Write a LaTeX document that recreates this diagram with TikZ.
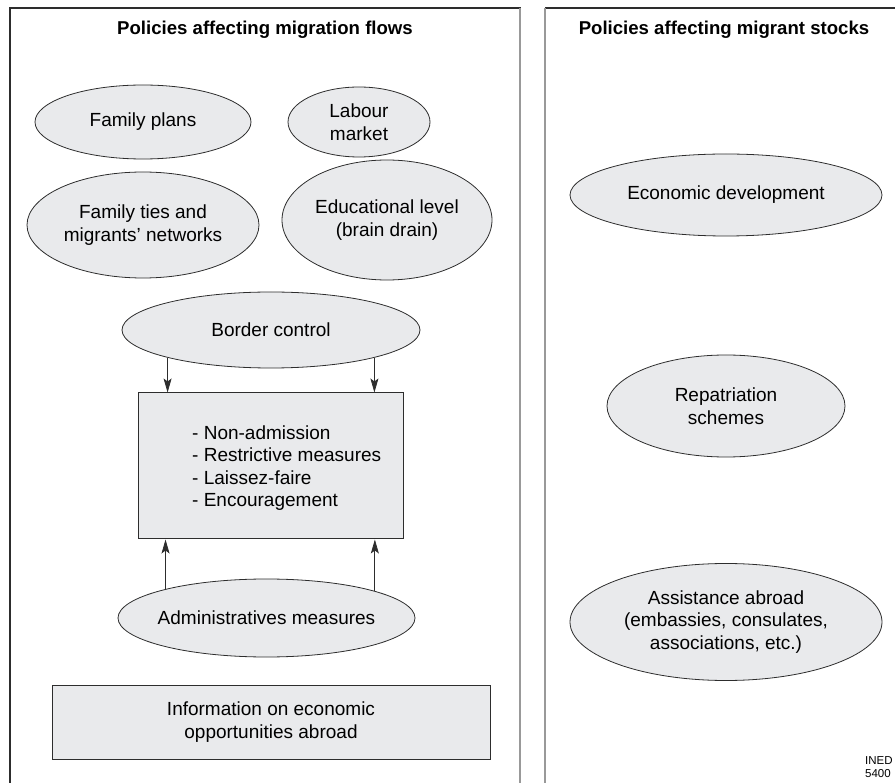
\documentclass[tikz,border=0pt]{standalone}
\usepackage{fontspec}
\setmainfont{Liberation Sans}
\usepackage{xcolor}
\usepackage{tikz}
\usetikzlibrary{shapes.geometric,arrows.meta}

\definecolor{shade}{RGB}{233,234,236}
\definecolor{ink}{RGB}{45,45,45}

\begin{document}
\begin{tikzpicture}[x=1pt,y=-1pt,
    body/.style={font=\fontsize{19}{22.5}\selectfont},
    heading/.style={font=\fontsize{18.6}{22}\selectfont\bfseries},
    oval/.style={body, ellipse, draw=ink, fill=shade, line width=0.8pt, inner xsep=-12pt, inner ysep=0pt, align=center},
    plainbox/.style={body, rectangle, draw=ink, fill=shade, line width=1pt, inner sep=0pt},
    arr/.style={draw=ink, line width=0.8pt, -{Stealth[length=14pt,width=8pt,inset=3pt]}}]

        % Page frame
        \useasboundingbox (0,0) rectangle (895,783);
        \clip (0,0) rectangle (895,783);

        % Two panels
        \draw[ink, line width=1.4pt] (10,800) -- (10,8) -- (521,8);
        \draw[gray!80, line width=1.6pt] (520,8) -- (520,800);
        \draw[ink, line width=1.4pt] (545,8) -- (900,8);
        \draw[gray!80, line width=1.6pt] (545,8) -- (545,800);

        % Titles
        \node[heading] (flowtitle) at (265,30) {Policies affecting migration flows};
        \node[heading] (stocktitle) at (724,30) {Policies affecting migrant stocks};

        % Flows
        \node[oval, minimum width=216pt, minimum height=74pt] (plans) at (143,122) {Family plans};
        \node[oval, minimum width=142pt, minimum height=70pt] (labour) at (359,122) {Labour\\market};
        \node[oval, minimum width=232pt, minimum height=106pt] (ties) at (143,225) {Family ties and\\migrants’ networks};
        \node[oval, minimum width=210pt, minimum height=120pt] (educ) at (387,220) {Educational level\\(brain drain)};
        \node[oval, minimum width=298pt, minimum height=76pt] (border) at (271,330) {Border control};

        \node[plainbox, minimum width=265pt, minimum height=146pt] (measures) at (270.5,466) {};
        \node[body, align=left, anchor=west, inner sep=0pt] (options) at (192,468)
            {- Non-admission\\- Restrictive measures\\- Laissez-faire\\- Encouragement};

        \node[oval, minimum width=297pt, minimum height=78pt] (admin) at (266.5,618) {Administratives measures};
        \node[plainbox, minimum width=438pt, minimum height=74pt, align=center] (info) at (271,722)
            {Information on economic\\opportunities abroad};

        % Arrows into the box
        \draw[arr] (border.195) -- (border.195 |- measures.north);
        \draw[arr] (border.345) -- (border.345 |- measures.north);
        \draw[arr] (admin.164) -- (admin.164 |- measures.south);
        \draw[arr] (admin.14) -- (admin.14 |- measures.south);

        % Stocks
        \node[oval, minimum width=312pt, minimum height=82pt] (econ) at (726,195) {Economic development};
        \node[oval, minimum width=238pt, minimum height=102pt] (repat) at (726,406) {Repatriation\\schemes};
        \node[oval, minimum width=312pt, minimum height=117pt] (assist) at (726,622)
            {Assistance abroad\\(embassies, consulates,\\associations, etc.)};

        % Source
        \node[font=\fontsize{11.5}{13.5}\selectfont, align=left, anchor=west, inner sep=0pt] (ined) at (865,767) {INED\\5400};

    \end{tikzpicture}
\end{document}
